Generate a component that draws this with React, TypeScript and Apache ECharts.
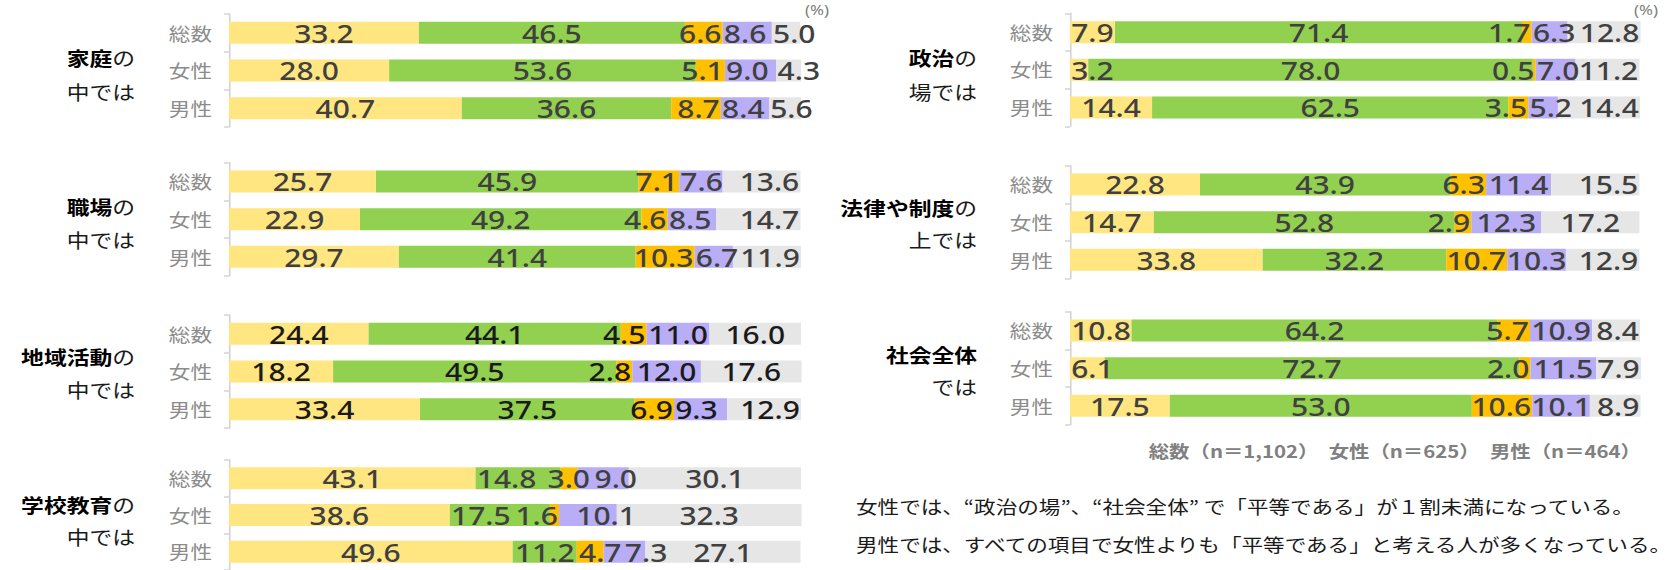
import React, { useEffect, useRef } from "react";
import * as echarts from "echarts";

// ---- data ----
const rowLabels = ["総数", "女性", "男性"];
const segmentNames = ["平等である", "男性の方が優遇されている", "女性の方が優遇されている", "どちらともいえない", "わからない"];
const segmentColors = ["#FFE680", "#92D050", "#FFC000", "#B9ADF6", "#E6E6E6"];

const katei = [[33.2, 46.5, 6.6, 8.6, 5.0], [28.0, 53.6, 5.1, 9.0, 4.3], [40.7, 36.6, 8.7, 8.4, 5.6]];
const shokuba = [[25.7, 45.9, 7.1, 7.6, 13.6], [22.9, 49.2, 4.6, 8.5, 14.7], [29.7, 41.4, 10.3, 6.7, 11.9]];
const chiiki = [[24.4, 44.1, 4.5, 11.0, 16.0], [18.2, 49.5, 2.8, 12.0, 17.6], [33.4, 37.5, 6.9, 9.3, 12.9]];
const gakko = [[43.1, 14.8, 3.0, 9.0, 30.1], [38.6, 17.5, 1.6, 10.1, 32.3], [49.6, 11.2, 4.7, 7.3, 27.1]];
const seiji = [[7.9, 71.4, 1.7, 6.3, 12.8], [3.2, 78.0, 0.5, 7.0, 11.2], [14.4, 62.5, 3.5, 5.2, 14.4]];
const horitsu = [[22.8, 43.9, 6.3, 11.4, 15.5], [14.7, 52.8, 2.9, 12.3, 17.2], [33.8, 32.2, 10.7, 10.3, 12.9]];
const shakai = [[10.8, 64.2, 5.7, 10.9, 8.4], [6.1, 72.7, 2.0, 11.5, 7.9], [17.5, 53.0, 10.6, 10.1, 8.9]];

const topicBold = ["家庭", "職場", "地域活動", "学校教育", "政治", "法律や制度", "社会全体"];
const topicRest1 = ["の", "の", "の", "の", "の", "の", ""];
const topicLine2 = ["中では", "中では", "中では", "中では", "場では", "上では", "では"];
const topicData = [katei, shokuba, chiiki, gakko, seiji, horitsu, shakai];

const sampleNote = "総数（n＝1,102）　女性（n＝625）　男性（n＝464）";
const noteLine1 = "女性では、“政治の場”、“社会全体” で「平等である」が１割未満になっている。";
const noteLine2 = "男性では、すべての項目で女性よりも「平等である」と考える人が多くなっている。";
const unitLabel = "(%)";

// ---- layout (positions only, in page pixels) ----
const PAGE_W = 1676;
const PAGE_H = 570;
const CHART_W = 1397; // chart drawn narrower, then stretched horizontally like the reference
const S = PAGE_W / CHART_W;
const X = (px: number) => px / S;

const gridLeft = [229, 229, 229, 229, 1070, 1070, 1070];
const gridWidth = [572, 572, 572, 572, 570, 570, 570];
const gridTop = [14, 162.7, 315, 460, 13.3, 165.7, 311.7];
const gridHeight = 113;
const titleX = [135, 135, 135, 135, 977, 977, 977];
const titleY1 = [58, 207, 357, 505, 58, 208, 355];
const titleY2 = [92, 240, 390, 537, 92, 240, 387];
const labelColors = ["#404040", "#404040", "#1a1a1a", "#404040", "#404040", "#404040", "#404040"];

const CJK = "'Noto Sans CJK JP', 'Noto Sans', sans-serif";
const NUM = "'Noto Sans', 'DejaVu Sans', sans-serif";

// label placement rule per segment (row = the five values of one bar), mimicking the reference
function labelOpt(seg: number, row: number[]): any {
  const v = row[seg];
  const g = row[1];
  if (seg === 0) return { position: v < 12 ? "insideLeft" : "inside" };
  if (seg === 1) return { position: v >= 12 && v < 20 ? "insideLeft" : "inside" };
  if (seg === 2) {
    if (g < 12) return { position: "inside", offset: [X(10), 0] };
    return { position: g < 15 ? "inside" : "insideRight" };
  }
  if (seg === 3) {
    if (g < 12) return { position: "insideLeft", offset: [X(20), 0] };
    if (g < 20) return { position: "insideLeft", offset: [X(16), 0] };
    return { position: v >= 10 ? "inside" : "insideLeft" };
  }
  if (v < 8) return { position: "insideLeft" };
  return { position: v < 16 ? "insideRight" : "inside" };
}

export default function App() {
  const ref = useRef<HTMLDivElement>(null);

  useEffect(() => {
    if (!ref.current) return;
    const chart = echarts.init(ref.current, undefined, { renderer: "svg" });

    const grids: any[] = [];
    const xAxes: any[] = [];
    const yAxes: any[] = [];
    const series: any[] = [];
    const graphics: any[] = [];

    topicData.forEach((rows, i) => {
      grids.push({ left: X(gridLeft[i]), top: gridTop[i], width: X(gridWidth[i]), height: gridHeight, containLabel: false });
      xAxes.push({ gridIndex: i, type: "value", min: 0, max: 100, show: false });
      yAxes.push({
        gridIndex: i,
        type: "category",
        data: rowLabels,
        inverse: true,
        axisLine: { show: true, lineStyle: { color: "#d4d4d4", width: 1.4 } },
        axisTick: { show: true, length: X(5), lineStyle: { color: "#d4d4d4", width: 1.5 } },
        axisLabel: { margin: X(17), fontSize: 18, color: "#8c8c8c", fontFamily: CJK },
        splitLine: { show: false },
      });
      segmentNames.forEach((name, j) => {
        series.push({
          name,
          type: "bar",
          xAxisIndex: i,
          yAxisIndex: i,
          stack: "s" + i,
          barWidth: 22,
          clip: false,
          data: rows.map((r) => ({ value: r[j], label: labelOpt(j, r) })),
          itemStyle: { color: segmentColors[j] },
          label: {
            show: true,
            position: "inside",
            distance: 1,
            formatter: (p: any) => Number(p.value).toFixed(1),
            fontSize: 25,
            fontWeight: 500,
            fontFamily: NUM,
            color: labelColors[i],
          },
        });
      });
      graphics.push({
        type: "text",
        x: X(titleX[i]),
        y: titleY1[i],
        style: {
          text: "{b|" + topicBold[i] + "}" + topicRest1[i],
          align: "right",
          verticalAlign: "middle",
          fontSize: 19,
          fontFamily: CJK,
          fill: "#1a1a1a",
          rich: { b: { fontWeight: "bold", fontSize: 19, fontFamily: CJK, fill: "#000000" } },
        },
      });
      graphics.push({
        type: "text",
        x: X(titleX[i]),
        y: titleY2[i],
        style: { text: topicLine2[i], align: "right", verticalAlign: "middle", fontSize: 19, fontFamily: CJK, fill: "#1a1a1a" },
      });
    });

    graphics.push({
      type: "text", x: X(805), y: 10,
      style: { text: unitLabel, align: "left", verticalAlign: "middle", fontSize: 14, fontFamily: NUM, fill: "#808080" },
    });
    graphics.push({
      type: "text", x: X(1634), y: 10,
      style: { text: unitLabel, align: "left", verticalAlign: "middle", fontSize: 14, fontFamily: NUM, fill: "#808080" },
    });
    graphics.push({
      type: "text", x: X(1641), y: 450,
      style: { text: sampleNote, align: "right", verticalAlign: "middle", fontSize: 17, fontWeight: "bold", fontFamily: CJK, fill: "#808080" },
    });
    graphics.push({
      type: "text", x: X(856), y: 506,
      style: { text: noteLine1, align: "left", verticalAlign: "middle", fontSize: 18, fontFamily: CJK, fill: "#1a1a1a" },
    });
    graphics.push({
      type: "text", x: X(856), y: 544,
      style: { text: noteLine2, align: "left", verticalAlign: "middle", fontSize: 18, fontFamily: CJK, fill: "#1a1a1a" },
    });

    chart.setOption({
      animation: false,
      backgroundColor: "#ffffff",
      grid: grids,
      xAxis: xAxes,
      yAxis: yAxes,
      series,
      graphic: graphics,
    });

    return () => chart.dispose();
  }, []);

  return (
    <div
      ref={ref}
      style={{
        position: "absolute",
        left: 0,
        top: 0,
        width: CHART_W,
        height: PAGE_H,
        transform: `scaleX(${S})`,
        transformOrigin: "0 0",
      }}
    />
  );
}
